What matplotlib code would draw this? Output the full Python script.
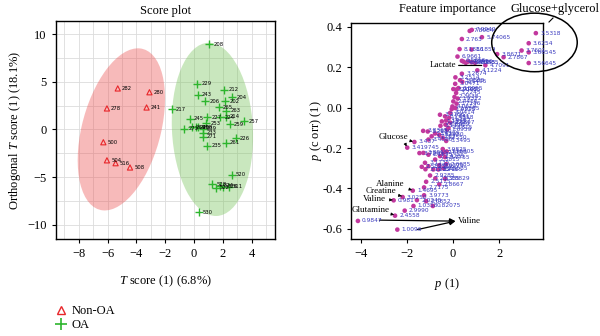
import matplotlib
matplotlib.use("Agg")
import matplotlib.pyplot as plt
from matplotlib.patches import Ellipse
from matplotlib.lines import Line2D
from matplotlib.ticker import MultipleLocator

plt.rcParams["font.family"] = ["Liberation Serif", "DejaVu Serif"]
plt.rcParams["mathtext.fontset"] = "custom"
plt.rcParams["mathtext.rm"] = "Liberation Serif"
plt.rcParams["mathtext.it"] = "Liberation Serif:italic"

# Score plot data
nonoa_ids = ["282", "280", "278", "241", "500", "504", "516", "508"]
nonoa_x = [-5.3, -3.1, -6.05, -3.3, -6.3, -6.05, -5.45, -4.45]
nonoa_y = [4.3, 3.9, 2.2, 2.3, -1.35, -3.25, -3.55, -4.0]

oa_ids = ["208", "229", "212", "243", "204", "206", "202", "265", "263", "217",
          "245", "227", "224", "214", "257", "259", "253", "273", "269", "249",
          "268", "239", "233", "271", "235", "226", "261", "520", "511", "528",
          "522", "524", "526", "530"]
oa_x = [1.05, 0.22, 2.09, 0.26, 2.65, 0.77, 2.16, 1.72, 2.23, -1.54,
        -0.29, 0.91, 1.8, 2.21, 3.48, 2.46, 0.84, -0.69, -0.17, 0.1,
        0.3, 0.59, 0.59, 0.59, 0.91, 2.9, 2.19, 2.6, 2.4, 1.26,
        1.51, 1.79, 2.0, 0.31]
oa_y = [8.93, 4.81, 4.18, 3.66, 3.35, 2.93, 2.93, 2.34, 1.95, 2.13,
        1.12, 1.29, 1.25, 1.32, 0.84, 0.52, 0.66, 0.07, 0.24, 0.24,
        0.2, 0.07, -0.35, -0.75, -1.74, -0.94, -1.4, -4.78, -6.0, -5.75,
        -6.14, -5.93, -6.0, -8.68]

# Feature importance (S-plot) data
feat_x = [0.81, 0.72, 0.38, 1.25, 0.28, 0.80, 0.19, 0.45, 0.55, 0.65, 0.80, 0.95, 0.38,
          1.40, 1.05,
          3.59, 3.28, 2.97, 3.28, 3.28, 1.91, 2.19,
          0.38, 0.10, 0.30, 0.40, 0.09, 0.23, 0.01, 0.15, 0.13, 0.06, 0.20, 0.01, 0.15,
          -0.03, 0.10, -0.06, -0.13, -0.57, -0.35, -0.17, -0.30, -0.49, -0.13, -0.33,
          -0.55, -0.20, -0.26,
          -0.78, -1.30, -1.10, -0.93, -0.60, -1.07, -1.68, -1.99, -0.45, -0.30,
          -1.46, -1.29, -1.07, -0.28, -0.42, -0.57, -0.78, -0.35, -0.45,
          -1.22, -1.36, -1.20, -1.07, -0.86, -0.64, -0.42, -0.60, -0.30,
          -1.00, -0.77, -0.35, -1.17, -0.60, -1.26,
          -1.75, -1.26, -2.19, -1.57, -1.17, -2.58, -1.72, -0.88, -2.10, -2.52,
          -4.13, -2.42]
feat_y = [0.385, 0.380, 0.340, 0.349, 0.290, 0.288, 0.253, 0.228, 0.222, 0.228, 0.225, 0.222, 0.232,
          0.210, 0.185,
          0.369, 0.319, 0.283, 0.274, 0.221, 0.265, 0.250,
          0.168, 0.150, 0.136, 0.128, 0.118, 0.097, 0.092, 0.090, 0.073, 0.053, 0.045, 0.031, 0.020,
          0.006, -0.002, -0.007, -0.026, -0.035, -0.043, -0.050, -0.063, -0.068, -0.074, -0.084,
          -0.090, -0.100, -0.108,
          -0.128, -0.115, -0.118, -0.142, -0.135, -0.158, -0.170, -0.198, -0.150, -0.165,
          -0.225, -0.224, -0.233, -0.217, -0.224, -0.240, -0.257, -0.245, -0.205,
          -0.273, -0.293, -0.305, -0.290, -0.306, -0.306, -0.300, -0.285, -0.280,
          -0.336, -0.350, -0.352, -0.367, -0.380, -0.395,
          -0.411, -0.434, -0.443, -0.458, -0.463, -0.459, -0.487, -0.487, -0.510, -0.535,
          -0.561, -0.604]
feat_labels = ["7.9949", "7.8984", "2.763", "5.74065", "8.1816", "8.1859", "6.9661",
               "1.4724", "6.8851", "7.2436", "1.3345", "4.0585", "6.5316",
               "4.7091", "4.1224",
               "3.5318", "3.6254", "3.7601", "3.66545", "3.56645", "3.8671", "2.7867",
               "3.2674", "3.2514", "3.4885", "2.1495", "3.0471", "3.8955", "3.9102", "2.0485",
               "3.2245", "2.3638", "3.9322", "2.4456", "3.7146",
               "4.0614", "2.6585", "1.9215", "3.0414", "3.2756", "3.7441", "1.4858", "3.9487",
               "1.1855", "2.6897", "0.8959", "3.1326", "2.1315", "1.6959",
               "3.4195", "3.8365", "3.2880", "3.7252", "3.3980", "3.4560", "3.437", "3.419745",
               "3.2550", "3.3495",
               "3.7265", "3.8015", "2.1275", "3.16005", "2.6865", "2.4285", "2.3815", "3.7755",
               "3.9825",
               "3.1135", "2.5395", "3.1915", "2.2365", "2.3245", "3.7165", "2.5535", "3.0375",
               "2.6685",
               "2.9285", "2.8385", "2.8829", "2.5175", "2.8667", "2.7175",
               "1.4695", "3.9773", "3.0250", "2.0245", "2.0852", "0.981", "1.0358", "0.82075",
               "2.9990", "2.4558",
               "0.9847", "1.0096"]

fig = plt.figure(figsize=(6.0, 3.36), dpi=100)

# ---------------- Score plot ----------------
ax1 = fig.add_axes([0.093, 0.289, 0.365, 0.649])
ax1.add_patch(Ellipse((-5.05, 0.0), 17.2, 5.55, angle=81.4,
                      facecolor=(0.93, 0.33, 0.33), alpha=0.40, edgecolor="none", zorder=1))
ax1.add_patch(Ellipse((1.27, 0.0), 18.2, 5.62, angle=91.7,
                      facecolor=(0.45, 0.76, 0.33), alpha=0.38, edgecolor="none", zorder=1))
ax1.scatter(nonoa_x, nonoa_y, marker="^", s=14, facecolors="none",
            edgecolors="#e8262a", linewidths=0.8, zorder=3)
ax1.scatter(oa_x, oa_y, marker="+", s=30, color="#2db52d", linewidths=1.0, zorder=3)
for i, x, y in zip(nonoa_ids, nonoa_x, nonoa_y):
    ax1.annotate(i, (x, y), xytext=(3, 0), textcoords="offset points",
                 fontsize=3.8, va="center", family="DejaVu Sans", zorder=4)
for i, x, y in zip(oa_ids, oa_x, oa_y):
    ax1.annotate(i, (x, y), xytext=(3, 0), textcoords="offset points",
                 fontsize=3.8, va="center", family="DejaVu Sans", zorder=4)

ax1.set_xlim(-9.6, 5.6)
ax1.set_ylim(-11.5, 11.4)
ax1.xaxis.set_major_locator(MultipleLocator(2))
ax1.xaxis.set_minor_locator(MultipleLocator(1))
ax1.yaxis.set_major_locator(MultipleLocator(5))
ax1.yaxis.set_minor_locator(MultipleLocator(2.5))
ax1.grid(True, which="both", color="#dcdcdc", lw=0.6, zorder=0)
ax1.set_axisbelow(True)
ax1.tick_params(which="minor", length=0)
ax1.tick_params(which="major", labelsize=9, length=3, width=0.8)
for s in ax1.spines.values():
    s.set_linewidth(1.0)
ax1.set_title("Score plot", fontsize=9, pad=5)
ax1.set_xlabel(r"$T$ score (1) (6.8%)", fontsize=9)
ax1.set_ylabel(r"Orthogonal $T$ score (1) (18.1%)", fontsize=9)
ax1.xaxis.set_label_coords(0.5, -0.16)
ax1.yaxis.set_label_coords(-0.15, 0.5)

handles = [Line2D([], [], ls="none", marker="^", mfc="none", mec="#e8262a", ms=6, mew=1.0),
           Line2D([], [], ls="none", marker="+", color="#2db52d", ms=9, mew=1.2)]
fig.legend(handles, ["Non-OA", "OA"], loc="upper left", bbox_to_anchor=(0.08, 0.11),
           frameon=False, fontsize=9, handlelength=1.0, handletextpad=0.4,
           labelspacing=0.15, borderpad=0)

# ---------------- Feature importance ----------------
ax2 = fig.add_axes([0.585, 0.289, 0.32, 0.643])
ax2.scatter(feat_x, feat_y, s=11, color="#c2389e", edgecolors="none", zorder=3)
for lab, x, y in zip(feat_labels, feat_x, feat_y):
    ax2.annotate(lab, (x, y), xytext=(3, 0), textcoords="offset points",
                 fontsize=4.2, va="center", color="#3a3abf", family="DejaVu Sans", zorder=4)

ann = dict(fontsize=6.5, va="center", ha="right", zorder=5)
small = dict(arrowstyle="-|>", lw=0.6, color="black", mutation_scale=4, shrinkB=2)
ax2.annotate("Lactate", xy=(1.3, 0.209), xytext=(0.12, 0.209),
             arrowprops=dict(arrowstyle="-", lw=0.9, color="black", shrinkA=0, shrinkB=1), **ann)
ax2.annotate("Glucose", xy=(-1.74, -0.168), xytext=(-1.93, -0.143), arrowprops=small, **ann)
ax2.annotate("", xy=(-2.02, -0.192), xytext=(-2.12, -0.168), arrowprops=small)
ax2.annotate("Alanine", xy=(-1.78, -0.408), xytext=(-2.1, -0.376), arrowprops=small, **ann)
ax2.annotate("Creatine", xy=(-2.23, -0.438), xytext=(-2.47, -0.414), arrowprops=small, **ann)
ax2.annotate("Valine", xy=(-2.62, -0.457), xytext=(-2.9, -0.454), arrowprops=small, **ann)
ax2.annotate("Glutamine", xy=(-2.56, -0.53), xytext=(-2.76, -0.508), arrowprops=small, **ann)
big = dict(arrowstyle="-|>", lw=0.9, color="black", mutation_scale=8, shrinkA=0, shrinkB=0)
ax2.annotate("", xy=(0.1, -0.562), xytext=(-3.2, -0.557), arrowprops=big)
ax2.annotate("", xy=(0.1, -0.562), xytext=(-1.55, -0.604), arrowprops=big)
ax2.text(0.2, -0.561, "Valine", fontsize=6.5, va="center", ha="left")

ax2.add_patch(Ellipse((3.53, 0.323), 3.71, 0.29, fill=False, edgecolor="black",
                      lw=1.1, clip_on=False, zorder=6))
fig.text(555 / 600, 1 - 9 / 336, "Glucose+glycerol", fontsize=9, ha="center", va="center")
fig.add_artist(Line2D([553 / 600, 549 / 600], [1 - 18 / 336, 1 - 22 / 336], color="black", lw=0.8))

ax2.set_xlim(-4.43, 3.9)
ax2.set_ylim(-0.65, 0.42)
ax2.xaxis.set_major_locator(MultipleLocator(2))
ax2.yaxis.set_major_locator(MultipleLocator(0.2))
ax2.yaxis.set_major_formatter(matplotlib.ticker.FormatStrFormatter("%.1f"))
ax2.tick_params(labelsize=9, length=3, width=0.8)
for s in ax2.spines.values():
    s.set_linewidth(1.0)
ax2.set_title("Feature importance", fontsize=9, pad=8)
ax2.set_xlabel(r"$p$ (1)", fontsize=9)
ax2.set_ylabel(r"$p$ (c orr) (1)", fontsize=9)
ax2.xaxis.set_label_coords(0.5, -0.17)
ax2.yaxis.set_label_coords(-0.14, 0.5)

fig.savefig("out.png", dpi=100)
